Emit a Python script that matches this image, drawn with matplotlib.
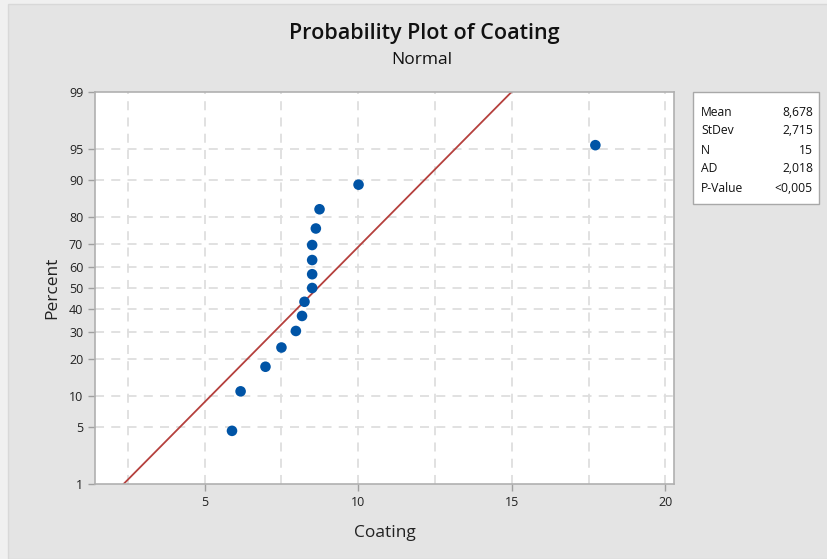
import numpy as np
import matplotlib
matplotlib.use('Agg')
import matplotlib.pyplot as plt
from matplotlib.patches import Rectangle
from statistics import NormalDist

plt.rcParams['font.family'] = ['Open Sans', 'DejaVu Sans']

# data
coating = [5.89, 6.17, 6.98, 7.50, 7.97, 8.17, 8.25, 8.50, 8.50, 8.50, 8.50, 8.62, 8.74, 10.01, 17.72]
percent = [4.5, 11.0, 17.5, 24.0, 30.5, 37.0, 43.5, 50.0, 56.5, 63.0, 69.5, 76.0, 82.5, 89.0, 95.5]
fit_x = [2.36, 14.99]
fit_pct = [1, 99]
y_ticks = [1, 5, 10, 20, 30, 40, 50, 60, 70, 80, 90, 95, 99]
x_ticks = [5, 10, 15, 20]
stat_names = ['Mean', 'StDev', 'N', 'AD', 'P-Value']
stat_values = ['8,678', '2,715', '15', '2,018', '<0,005']

nd = NormalDist()
_ppf = np.vectorize(lambda v: nd.inv_cdf(v / 100.0), otypes=[float])
_cdf = np.vectorize(lambda v: 100.0 * nd.cdf(v), otypes=[float])


def fwd(p):
    p = np.clip(np.asarray(p, dtype=float), 1e-6, 100 - 1e-6)
    return _ppf(p)


def inv(z):
    return _cdf(np.asarray(z, dtype=float))


fig = plt.figure(figsize=(8.28, 5.59), dpi=100, facecolor='#f0f0f0')
# grey panel behind the chart
fig.patches.append(Rectangle((8 / 828, 0), 1, 1 - 4 / 559, transform=fig.transFigure,
                             facecolor='#e4e4e4', edgecolor='#d8d8d8', lw=1, zorder=-10))

ax = fig.add_axes([95 / 828, 1 - 484 / 559, 579 / 828, 392 / 559])
ax.set_yscale('function', functions=(fwd, inv))
ax.set_xlim(1.43, 20.28)
ax.set_ylim(1, 99)

grid_kw = dict(color='#dedede', lw=1.3, ls=(0, (5, 4)), zorder=1)
for gx in np.arange(2.5, 20.1, 2.5):
    ax.axvline(gx, **grid_kw)
for gy in y_ticks[1:-1]:
    ax.axhline(gy, **grid_kw)

ax.plot(fit_x, fit_pct, color='#b5403d', lw=1.3, zorder=2)
ax.scatter(coating, percent, s=58, color='#0054a6', zorder=3, edgecolors='none')

ax.set_yticks(y_ticks)
ax.set_yticklabels([str(t) for t in y_ticks])
ax.yaxis.set_minor_locator(matplotlib.ticker.NullLocator())
ax.set_xticks(x_ticks)
ax.set_xticklabels([str(t) for t in x_ticks])
ax.tick_params(axis='both', colors='#a0a0a0', labelcolor='#222222', labelsize=9, length=5, width=1)
for s in ax.spines.values():
    s.set_color('#b0b0b0')
    s.set_linewidth(1.2)

ax.set_xlabel('Coating', fontsize=12.5, color='#222222', labelpad=12)
ax.set_ylabel('Percent', fontsize=12.5, color='#222222', labelpad=6)

fig.text(0.512, 1 - 34 / 559, 'Probability Plot of Coating', ha='center', va='center',
         fontsize=15.5, color='#111111', fontweight='semibold')
fig.text(0.51, 1 - 60 / 559, 'Normal', ha='center', va='center', fontsize=12.5, color='#111111')

# stats box
fig.patches.append(Rectangle((693 / 828, 1 - 204 / 559), 126 / 828, 112 / 559, transform=fig.transFigure,
                             facecolor='white', edgecolor='#a8a8a8', lw=1, zorder=1))
for i, (nm, val) in enumerate(zip(stat_names, stat_values)):
    yy = 1 - (112 + 19 * i) / 559
    fig.text(701 / 828, yy, nm, ha='left', va='center', fontsize=8.7, color='#111111')
    fig.text(813 / 828, yy, val, ha='right', va='center', fontsize=8.7, color='#111111')

fig.savefig('out.png', dpi=100, facecolor=fig.get_facecolor())
